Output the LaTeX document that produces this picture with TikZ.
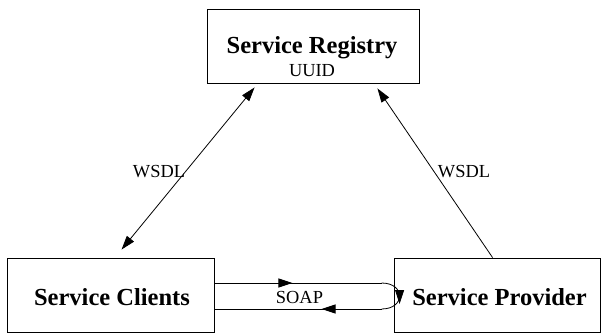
\documentclass[tikz,border=0pt]{standalone}
\usepackage{fontspec}
\setmainfont{Liberation Serif}
\usetikzlibrary{arrows.meta,calc,decorations.markings}
\begin{document}
\begin{tikzpicture}[x=1pt,y=-1pt,
  box/.style={draw,line width=0.9pt,minimum width=#1,minimum height=74pt,inner sep=0pt},
  title/.style={font=\fontsize{24.5}{28}\selectfont\bfseries,anchor=base,inner sep=0pt},
  lab/.style={font=\fontsize{18.4}{21}\selectfont,anchor=base,inner sep=0pt},
  stip/.tip={Triangle[length=14pt,width=9pt]},
  conn/.style={line width=0.8pt},
  midtip/.style={postaction=decorate,decoration={markings,mark=at position #1 with {\arrow{stip}}}}]
\useasboundingbox (0,0) rectangle (603,334);
\node[box=212pt] (reg) at (313,46) {};
\node[box=207pt] (cli) at (110.5,295) {};
\node[box=206pt] (prov) at (497,295) {};
\node[title] (regt) at (312,54) {Service Registry};
\node[lab] (uuid) at (312,77) {UUID};
\node[title] (clit) at (112,305) {Service Clients};
\node[title] (provt) at (499.5,305) {Service Provider};
% WSDL connectors
\draw[conn,{stip}-{stip}] ($(reg.south west)+(48,4)$) -- ($(cli.north west)+(115,-8)$);
\draw[conn,-{stip}] ($(prov.north west)+(99,0)$) -- ($(reg.south east)+(-42,5)$);
\node[lab] (w1) at (159,178) {WSDL};
\node[lab] (w2) at (464,178) {WSDL};
% SOAP loop
\coordinate (a) at ($(cli.east)+(0,-12)$);
\coordinate (b) at ($(prov.west)+(-12,-12)$);
\coordinate (c) at ($(prov.west)+(-12,14)$);
\coordinate (d) at ($(cli.east)+(0,14)$);
\draw[conn,midtip=78pt] (a) -- (b);
\draw[conn,postaction=decorate,decoration={markings,mark=at position 0.5 with {\arrow[xshift=8pt]{stip}}}]
  (b) .. controls ($(b)+(24,0)$) and ($(c)+(24,0)$) .. (c);
\draw[conn,midtip=60pt] (c) -- (d);
\node[lab] (soap) at (299.5,303) {SOAP};
\end{tikzpicture}
\end{document}
